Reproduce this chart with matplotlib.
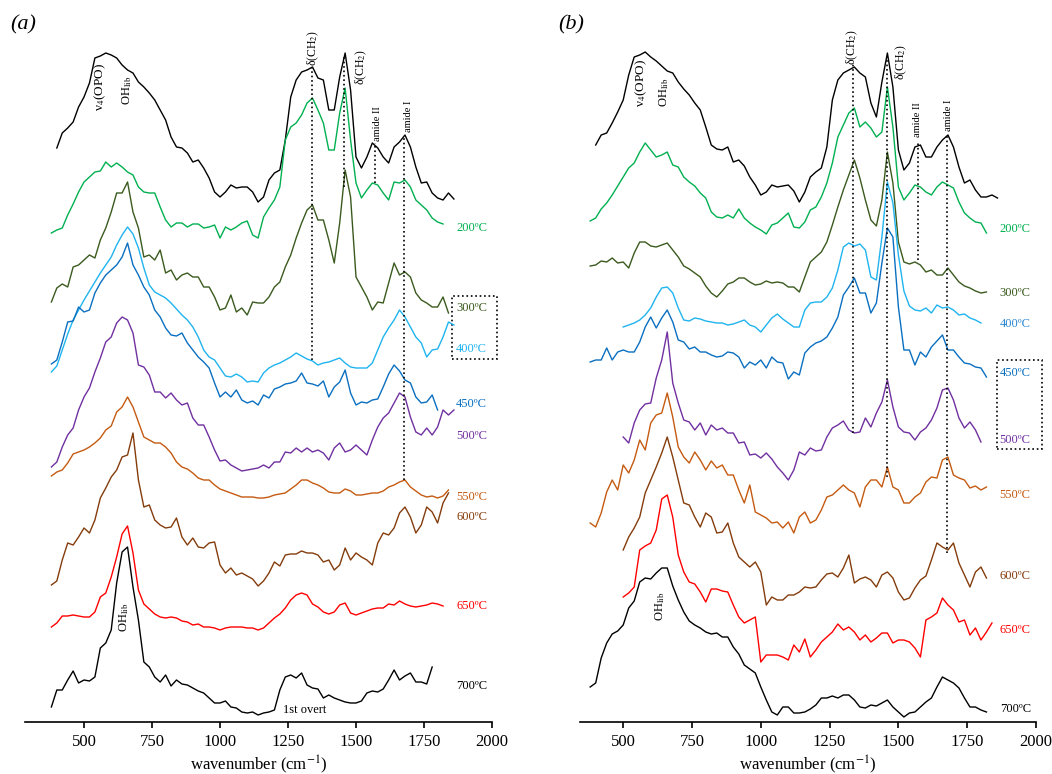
import numpy as np
import matplotlib
matplotlib.use("Agg")
import matplotlib.pyplot as plt
from matplotlib.patches import Rectangle

plt.rcParams['font.family'] = ['Liberation Serif', 'DejaVu Serif']
plt.rcParams['mathtext.fontset'] = 'stix'

STEP = 20

# ---- panel (a) ----
a_ref_start = 400
a_ref = [574, 589, 594, 600, 615, 625, 639, 664, 666, 669,
         667, 664, 657, 652, 649, 640, 635, 629, 622, 612,
         602, 585, 575, 574, 569, 560, 562, 554, 544, 530,
         525, 530, 537, 534, 535, 535, 530, 520, 525, 542,
         549, 552, 582, 625, 642, 650, 652, 655, 644, 642,
         612, 612, 645, 669, 632, 565, 554, 565, 579, 574,
         565, 559, 575, 580, 587, 575, 555, 539, 540, 529,
         524, 522, 529, 523]
a_200_start = 380
a_200 = [489, 492, 494, 507, 518, 530, 540, 545, 550, 551,
         560, 555, 559, 555, 550, 547, 535, 530, 529, 529,
         515, 502, 495, 499, 499, 495, 498, 498, 494, 495,
         497, 484, 495, 492, 495, 499, 501, 487, 484, 505,
         514, 522, 535, 582, 595, 599, 607, 619, 624, 612,
         599, 572, 572, 609, 634, 582, 539, 524, 532, 539,
         537, 529, 522, 540, 539, 542, 535, 522, 517, 512,
         504, 500, 498]
a_300_start = 380
a_300 = [420, 434, 438, 435, 455, 457, 462, 467, 464, 482,
         494, 510, 529, 529, 540, 510, 494, 465, 467, 462,
         472, 449, 452, 442, 447, 449, 445, 445, 435, 435,
         425, 412, 414, 427, 410, 414, 407, 420, 419, 419,
         425, 435, 440, 455, 467, 484, 499, 512, 517, 502,
         502, 482, 459, 499, 552, 525, 445, 435, 425, 412,
         420, 419, 439, 459, 447, 450, 445, 429, 422, 419,
         415, 415, 425, 409]
a_400_start = 380
a_400 = [350, 356, 372, 388, 402, 412, 422, 431, 440, 449,
         457, 465, 477, 487, 495, 488, 474, 454, 437, 430,
         427, 424, 419, 413, 407, 402, 395, 385, 372, 365,
         362, 354, 346, 345, 348, 345, 340, 341, 340, 349,
         354, 357, 359, 362, 365, 369, 366, 363, 361, 357,
         359, 360, 362, 364, 359, 355, 354, 354, 354, 359,
         372, 385, 394, 402, 412, 405, 395, 385, 379, 365,
         372, 373, 385, 400, 397]
a_450_start = 380
a_450 = [358, 362, 380, 400, 401, 415, 410, 412, 429, 439,
         447, 452, 457, 465, 479, 457, 447, 435, 427, 412,
         405, 394, 387, 386, 389, 379, 372, 365, 360, 354,
         339, 325, 330, 325, 332, 322, 319, 321, 317, 327,
         324, 333, 335, 338, 339, 341, 349, 339, 338, 336,
         341, 325, 335, 340, 352, 329, 317, 320, 319, 322,
         323, 335, 348, 357, 351, 342, 339, 325, 319, 320,
         327, 312]
a_500_start = 380
a_500 = [255, 260, 275, 287, 294, 312, 325, 334, 350, 364,
         380, 385, 399, 405, 402, 389, 357, 355, 347, 330,
         330, 324, 329, 322, 317, 319, 304, 297, 297, 285,
         272, 261, 262, 257, 254, 251, 252, 253, 254, 257,
         254, 260, 260, 270, 269, 274, 270, 274, 270, 272,
         269, 262, 274, 279, 270, 272, 277, 272, 267, 282,
         295, 304, 309, 319, 329, 325, 305, 290, 287, 294,
         287, 295, 312, 307, 312]
a_550_start = 380
a_550 = [246, 250, 252, 259, 268, 270, 272, 275, 279, 284,
         292, 296, 310, 315, 325, 315, 300, 285, 282, 279,
         279, 275, 269, 260, 255, 253, 249, 244, 242, 242,
         237, 233, 231, 229, 227, 225, 225, 225, 224, 224,
         225, 227, 228, 229, 233, 237, 242, 242, 239, 237,
         234, 230, 229, 229, 233, 231, 227, 227, 228, 229,
         229, 231, 235, 237, 240, 242, 235, 231, 227, 225,
         226, 224, 226, 232]
a_600_start = 380
a_600 = [137, 141, 162, 179, 177, 185, 194, 189, 202, 224,
         234, 245, 252, 265, 267, 289, 242, 215, 217, 202,
         197, 194, 195, 204, 185, 177, 184, 175, 174, 179,
         180, 157, 149, 154, 147, 149, 146, 143, 136, 141,
         149, 160, 156, 167, 168, 168, 171, 169, 169, 167,
         160, 162, 152, 157, 174, 162, 169, 165, 162, 157,
         179, 189, 187, 194, 209, 215, 205, 189, 197, 215,
         210, 199, 219, 229]
a_650_start = 380
a_650 = [95, 99, 106, 106, 107, 106, 105, 105, 110, 125,
         129, 145, 165, 188, 196, 169, 132, 118, 113, 108,
         105, 104, 105, 104, 101, 100, 97, 98, 95, 95,
         94, 92, 94, 95, 95, 95, 94, 94, 92, 94,
         99, 104, 108, 114, 122, 127, 129, 127, 118, 115,
         110, 108, 110, 117, 119, 109, 107, 109, 111, 113,
         114, 114, 118, 117, 121, 118, 116, 115, 116, 117,
         119, 118, 116]
a_700_start = 380
a_700 = [15, 32, 32, 42, 51, 39, 42, 41, 45, 74,
         79, 92, 139, 170, 175, 135, 102, 60, 55, 45,
         40, 47, 36, 42, 38, 37, 34, 31, 29, 24,
         19, 19, 21, 15, 14, 10, 9, 10, 7, 9,
         10, 12, 32, 45, 47, 44, 49, 37, 34, 33,
         24, 27, 24, 22, 20, 19, 19, 21, 29, 31,
         30, 33, 42, 52, 42, 46, 49, 40, 40, 38,
         55]

# ---- panel (b) ----
b_ref_start = 400
b_ref = [577, 587, 589, 599, 610, 622, 647, 665, 667, 670,
         665, 661, 656, 651, 649, 640, 633, 627, 619, 612,
         595, 577, 573, 572, 575, 560, 562, 556, 545, 537,
         527, 530, 537, 535, 536, 537, 531, 520, 530, 545,
         550, 554, 575, 622, 642, 649, 652, 655, 649, 645,
         619, 605, 640, 669, 635, 572, 552, 559, 575, 577,
         565, 565, 575, 582, 587, 575, 555, 539, 542, 532,
         525, 525, 527, 524]
b_200_start = 380
b_200 = [501, 504, 513, 519, 527, 536, 545, 554, 559, 570,
         579, 572, 565, 567, 570, 557, 555, 545, 540, 536,
         529, 524, 510, 505, 504, 507, 504, 513, 504, 499,
         495, 492, 488, 497, 499, 504, 509, 495, 494, 500,
         512, 515, 525, 539, 559, 585, 597, 609, 614, 595,
         600, 594, 585, 590, 635, 595, 535, 522, 529, 537,
         535, 530, 527, 535, 540, 537, 534, 520, 509, 504,
         500, 499, 489]
b_300_start = 380
b_300 = [456, 457, 461, 460, 464, 459, 460, 454, 469, 480,
         480, 476, 475, 477, 479, 472, 465, 456, 453, 449,
         445, 436, 429, 425, 431, 438, 440, 444, 444, 440,
         437, 438, 441, 439, 440, 439, 435, 435, 430, 445,
         460, 465, 470, 480, 497, 515, 532, 547, 562, 544,
         522, 502, 496, 522, 570, 539, 480, 460, 458, 460,
         457, 450, 452, 447, 447, 454, 447, 440, 436, 434,
         431, 429, 430]
b_400_start = 500
b_400 = [395, 397, 399, 402, 407, 414, 425, 434, 435, 429,
         414, 402, 401, 404, 403, 401, 400, 399, 399, 397,
         398, 400, 402, 397, 395, 390, 397, 404, 408, 403,
         399, 395, 395, 412, 419, 420, 420, 425, 434, 452,
         475, 479, 476, 478, 472, 445, 442, 485, 540, 519,
         467, 431, 416, 412, 411, 414, 409, 417, 414, 415,
         412, 407, 408, 404, 402, 399]
b_450_start = 380
b_450 = [360, 362, 362, 374, 362, 370, 372, 370, 370, 380,
         395, 405, 394, 404, 412, 400, 382, 380, 373, 375,
         370, 370, 367, 365, 366, 370, 369, 365, 354, 360,
         357, 362, 354, 365, 360, 359, 343, 350, 347, 369,
         375, 379, 381, 385, 394, 405, 427, 435, 444, 429,
         429, 409, 419, 459, 494, 485, 415, 372, 372, 357,
         370, 365, 375, 381, 387, 372, 372, 365, 359, 358,
         355, 354, 345]
b_500_start = 500
b_500 = [285, 279, 299, 312, 318, 319, 344, 362, 390, 339,
         319, 302, 300, 292, 299, 287, 297, 292, 294, 289,
         289, 279, 280, 267, 268, 264, 269, 263, 255, 249,
         242, 252, 270, 267, 274, 271, 272, 285, 294, 297,
         301, 292, 289, 290, 304, 295, 309, 320, 342, 315,
         295, 290, 289, 282, 290, 294, 302, 314, 332, 334,
         322, 304, 294, 300, 292, 280]
b_550_start = 380
b_550 = [199, 195, 209, 230, 242, 232, 257, 249, 262, 282,
         272, 299, 307, 309, 329, 305, 275, 265, 259, 270,
         262, 252, 261, 254, 257, 247, 247, 232, 219, 237,
         210, 207, 204, 199, 200, 194, 200, 189, 205, 210,
         199, 202, 212, 225, 227, 232, 237, 232, 229, 215,
         235, 242, 242, 235, 255, 235, 232, 219, 219, 225,
         229, 240, 245, 244, 262, 265, 247, 244, 242, 234,
         236, 232, 235]
b_600_start = 500
b_600 = [172, 185, 194, 205, 229, 242, 255, 269, 285, 265,
         242, 219, 217, 205, 195, 209, 205, 189, 190, 199,
         179, 165, 160, 155, 160, 150, 117, 125, 122, 122,
         127, 127, 130, 135, 134, 135, 142, 148, 149, 145,
         154, 167, 139, 143, 145, 142, 135, 147, 150, 144,
         130, 122, 124, 134, 142, 146, 162, 179, 175, 172,
         179, 159, 147, 135, 150, 155, 144]
b_650_start = 500
b_650 = [125, 129, 135, 172, 176, 179, 192, 223, 227, 205,
         167, 150, 140, 138, 130, 120, 133, 133, 131, 130,
         117, 105, 99, 102, 105, 60, 67, 67, 67, 65,
         62, 77, 70, 83, 65, 72, 80, 85, 90, 98,
         92, 95, 90, 82, 87, 80, 84, 89, 89, 79,
         82, 82, 80, 74, 65, 102, 105, 109, 124, 117,
         112, 100, 102, 87, 94, 82, 90, 99]
b_700_start = 380
b_700 = [35, 39, 64, 79, 88, 91, 97, 114, 121, 140,
         144, 143, 149, 154, 154, 136, 122, 110, 101, 97,
         94, 90, 88, 89, 85, 85, 75, 68, 57, 53,
         49, 35, 22, 10, 7, 15, 15, 9, 9, 10,
         13, 17, 24, 24, 26, 24, 27, 27, 22, 15,
         14, 17, 16, 19, 22, 15, 10, 5, 9, 10,
         15, 20, 24, 35, 45, 42, 39, 34, 24, 15,
         15, 12, 10]

temps = ['200ºC', '300ºC', '400ºC', '450ºC', '500ºC', '550ºC', '600ºC', '650ºC', '700ºC']
colors = ['#00b050', '#3a5a1e', '#1fb4ef', '#0a6fc0', '#7030a0', '#c55a11', '#843c0c', '#ff0000', 'black']

spectra_a = [(a_ref_start, a_ref), (a_200_start, a_200), (a_300_start, a_300), (a_400_start, a_400),
             (a_450_start, a_450), (a_500_start, a_500), (a_550_start, a_550), (a_600_start, a_600),
             (a_650_start, a_650), (a_700_start, a_700)]
spectra_b = [(b_ref_start, b_ref), (b_200_start, b_200), (b_300_start, b_300), (b_400_start, b_400),
             (b_450_start, b_450), (b_500_start, b_500), (b_550_start, b_550), (b_600_start, b_600),
             (b_650_start, b_650), (b_700_start, b_700)]

# label heights next to each spectrum
label_y_a = [494, 414, 373, 318, 286, 225, 205, 116, 36]
label_y_b = [493, 429, 398, 349, 282, 227, 146, 92, 13]
label_col_b = list(colors)
label_col_b[2] = '#2c86cf'

# band assignments: (wavenumber, y_top, y_bottom)
bands_a = [(1337, 654, 362), (1457, 667, 535), (1570, 579, 539), (1678, 585, 242)]
bands_b = [(1335, 659, 289), (1460, 665, 245), (1570, 579, 462), (1676, 587, 169)]


def draw_panel(ax, spectra, label_y, label_cols, bands, xmin):
    line_cols = ['black'] + colors
    for (start, vals), c in zip(spectra, line_cols):
        x = start + STEP * np.arange(len(vals))
        ax.plot(x, vals, color=c, lw=1.0)
    for t, y, c in zip(temps, label_y, label_cols):
        ax.text(1868, y, t, color=c, fontsize=9, va='center', ha='left', clip_on=False)
    for w, y0, y1 in bands:
        ax.vlines(w, y1, y0, colors='black', linestyles=':', lw=1.2)
    ax.set_xlim(xmin, 2000)
    ax.set_ylim(0, 722)
    for s in ['left', 'right', 'top']:
        ax.spines[s].set_visible(False)
    ax.spines['bottom'].set_linewidth(1.2)
    ax.set_yticks([])
    ax.set_xticks([500, 750, 1000, 1250, 1500, 1750, 2000])
    ax.tick_params(axis='x', direction='out', length=4, width=1.2, labelsize=12, pad=5)
    ax.set_xlabel('wavenumber (cm$^{-1}$)', fontsize=12, labelpad=2)


fig = plt.figure(figsize=(10.52, 7.74), dpi=100)
ax1 = fig.add_axes([25 / 1052, 52 / 774, 467 / 1052, 722 / 774])
ax2 = fig.add_axes([580 / 1052, 52 / 774, 456 / 1052, 722 / 774])

draw_panel(ax1, spectra_a, label_y_a, colors, bands_a, 283)
draw_panel(ax2, spectra_b, label_y_b, label_col_b, bands_b, 343)

# panel (a) annotations
ax1.text(559, 635, 'ν$_4$(OPO)', rotation=90, fontsize=9.5, ha='center', va='center')
ax1.text(658, 632, 'OH$_{\\rm lib}$', rotation=90, fontsize=9, ha='center', va='center')
ax1.text(1343, 674, 'δ(CH$_2$)', rotation=90, fontsize=8.5, ha='center', va='center')
ax1.text(1519, 655, 'δ(CH$_2$)', rotation=90, fontsize=8.5, ha='center', va='center')
ax1.text(1578, 598, 'amide II', rotation=90, fontsize=7.5, ha='center', va='center')
ax1.text(1692, 606, 'amide I', rotation=90, fontsize=7.5, ha='center', va='center')
ax1.text(647, 105, 'OH$_{\\rm lib}$', rotation=90, fontsize=9, ha='center', va='center')
ax1.text(1232, 12, '1st overt', fontsize=9, ha='left', va='center')
ax1.add_patch(Rectangle((1854, 363), 166, 63, fill=False, ls=':', lw=1.2, clip_on=False))

# panel (b) annotations
ax2.text(564, 639, 'ν$_4$(OPO)', rotation=90, fontsize=9.5, ha='center', va='center')
ax2.text(648, 630, 'OH$_{\\rm lib}$', rotation=90, fontsize=9, ha='center', va='center')
ax2.text(1334, 675, 'δ(CH$_2$)', rotation=90, fontsize=8.5, ha='center', va='center')
ax2.text(1512, 660, 'δ(CH$_2$)', rotation=90, fontsize=8.5, ha='center', va='center')
ax2.text(1570, 602, 'amide II', rotation=90, fontsize=7.5, ha='center', va='center')
ax2.text(1683, 607, 'amide I', rotation=90, fontsize=7.5, ha='center', va='center')
ax2.text(633, 116, 'OH$_{\\rm lib}$', rotation=90, fontsize=9, ha='center', va='center')
ax2.add_patch(Rectangle((1857, 273), 164, 89, fill=False, ls=':', lw=1.2, clip_on=False))

fig.text(23 / 1052, 1 - 25 / 774, '(a)', fontsize=16, style='italic', ha='center', va='center')
fig.text(571 / 1052, 1 - 25 / 774, '(b)', fontsize=16, style='italic', ha='center', va='center')

fig.savefig('out.png', dpi=100)
